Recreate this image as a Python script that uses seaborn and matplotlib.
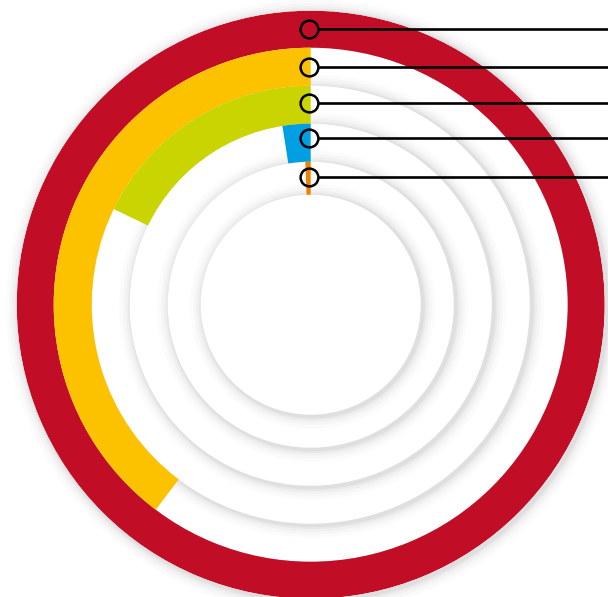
import numpy as np
import seaborn as sns
import matplotlib.pyplot as plt
import matplotlib.transforms as mtransforms

# ring values (percent of a full circle), outer ring first
segments = ["Ring 1", "Ring 2", "Ring 3", "Ring 4", "Ring 5"]
shares = [100, 39.7, 17.8, 2.5, 0.6]
ring_colors = ["#C20D27", "#FCC200", "#C9D400", "#009FE1", "#EF8000"]

sns.set_theme(style="white")
palette = sns.color_palette(ring_colors)

# layout (pixels)
W, H = 608, 597
cx, cy = 310.7, 304.7
R = 294
edges = [294, 257, 219, 181, 143, 110]      # track boundaries, outer -> inner
marker_r = [276, 238, 202, 167, 128]
marker_dx = -1.7                             # markers sit a touch left of 12 o'clock

fig = plt.figure(figsize=(W / 100, H / 100), dpi=100)
ax = fig.add_axes([(cx - R) / W, (H - cy - R) / H, 2 * R / W, 2 * R / H],
                  projection="polar")
ax.set_theta_zero_location("N")
ax.set_theta_direction(1)
ax.set_ylim(0, R)
ax.axis("off")

shadow_tr = mtransforms.offset_copy(ax.transData, fig=fig, x=2, y=-1.5, units="dots")
circle = np.linspace(0, 2 * np.pi, 721)

# white tracks (stacked discs) each with a soft drop shadow
z = 1
for r in edges:
    for lw, a in [(18, 0.015), (13, 0.02), (9, 0.025), (5.5, 0.03), (3, 0.035)]:
        ax.plot(circle, np.full_like(circle, r), color="black", lw=lw, alpha=a,
                transform=shadow_tr, solid_capstyle="butt", clip_on=False, zorder=z)
    z += 1
    ax.bar(0, r, width=2 * np.pi, bottom=0, align="edge", color="white",
           linewidth=0, zorder=z)
    z += 1

# coloured bars, starting at 12 o'clock and running counter-clockwise
for i, (name, val) in enumerate(zip(segments, shares)):
    outer, inner = edges[i], edges[i + 1]
    ax.bar(0, outer - inner, width=val / 100 * 2 * np.pi, bottom=inner,
           align="edge", color=palette[i], linewidth=0, zorder=50, label=name)

# leader markers and lines to the right edge
xs = np.array([marker_dx + 9.5, W - cx + 5])
for r in marker_r:
    ax.plot(np.arctan2(-marker_dx, r), np.hypot(marker_dx, r), "o", ms=12.8,
            mfc="none", mec="black", mew=1.8, clip_on=False, zorder=60)
    ax.plot(np.arctan2(-xs, r), np.hypot(xs, r), color="black", lw=1.9,
            clip_on=False, zorder=60)

fig.savefig("out.png", dpi=100)
